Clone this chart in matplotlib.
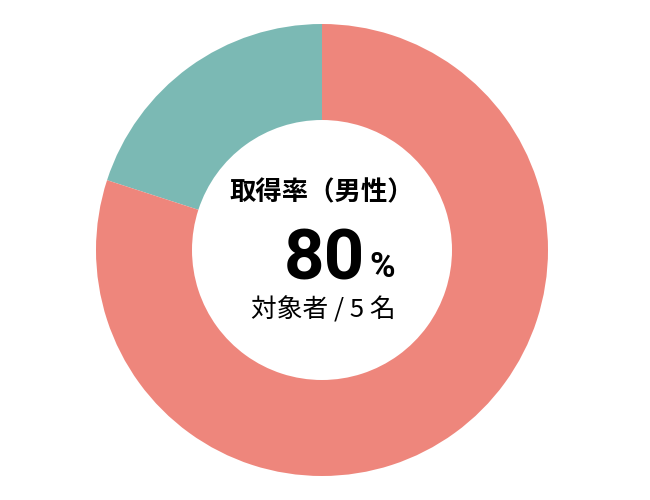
import matplotlib.pyplot as plt

# 取得率（男性）: 取得 80%, 未取得 20%
labels = ['未取得', '取得']
values = [20, 80]
colors = ['#7bb9b4', '#ee867c']

title_text = '取得率（男性）'
rate_text = '80'
unit_text = '%'
count_text = '対象者 / 5 名'

plt.rcParams['font.family'] = ['Noto Sans CJK JP', 'DejaVu Sans']

fig = plt.figure(figsize=(6.5, 5), dpi=100)
ax = fig.add_axes([0, 0, 1, 1])

ax.pie(values, colors=colors, startangle=90, counterclock=True,
       center=(322, 250), radius=226,
       wedgeprops=dict(width=96, linewidth=0))
ax.set_xlim(0, 650)
ax.set_ylim(0, 500)
ax.set_aspect('equal')
ax.axis('off')

ax.text(322, 307, title_text, fontsize=19, fontweight='bold',
        ha='center', va='center')
ax.text(324, 220, rate_text, fontsize=51, fontweight='bold',
        family=['Roboto', 'DejaVu Sans'],
        ha='center', va='baseline')
ax.text(382, 223, unit_text, fontsize=25, fontweight='bold',
        family=['Roboto', 'DejaVu Sans'],
        ha='center', va='baseline')
ax.text(323, 190, count_text, fontsize=18.5,
        ha='center', va='center')

plt.savefig('out.png', dpi=100)
plt.close()
